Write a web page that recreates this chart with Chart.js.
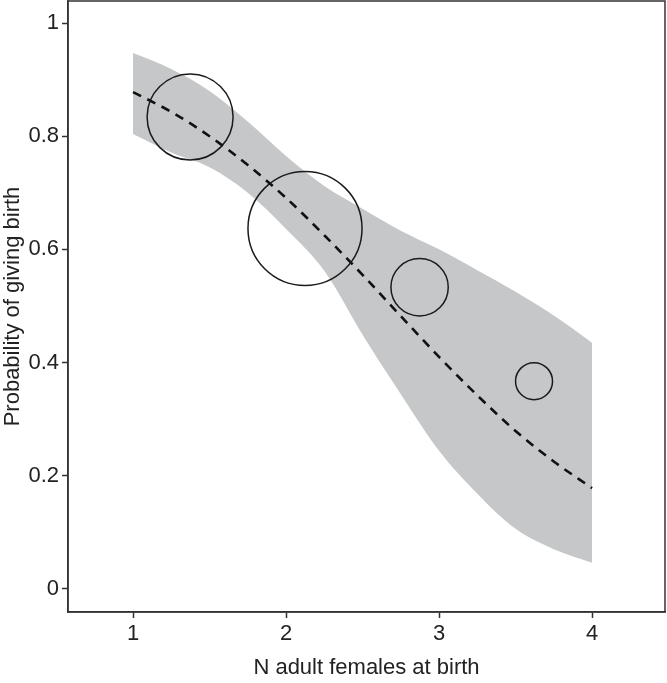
<!DOCTYPE html>
<html>
<head>
<meta charset="utf-8">
<style>
  body { margin: 0; background: #fff; }
</style>
</head>
<body>
<canvas id="myChart" width="667" height="683"></canvas>
<script src="https://cdn.jsdelivr.net/npm/chart.js"></script>
<script>
    // values
    const xGrid = [1, 1.25, 1.5, 1.75, 2, 2.25, 2.5, 2.75, 3, 3.25, 3.5, 3.75, 4];
    const fitted = [0.878, 0.843, 0.800, 0.749, 0.691, 0.625, 0.555, 0.482, 0.410, 0.342, 0.279, 0.225, 0.178];
    const upperCI = [0.947, 0.919, 0.880, 0.826, 0.765, 0.712, 0.672, 0.633, 0.600, 0.563, 0.525, 0.483, 0.435];
    const lowerCI = [0.804, 0.771, 0.745, 0.700, 0.636, 0.562, 0.449, 0.344, 0.244, 0.168, 0.106, 0.070, 0.046];

    const obsX = [1.373, 2.124, 2.873, 3.621];
    const obsY = [0.834, 0.637, 0.533, 0.367];
    const obsN = [54, 95, 24, 10];

    const xTicks = [1, 2, 3, 4];
    const yTicks = [0, 0.2, 0.4, 0.6, 0.8, 1];

    const pts = (ys) => xGrid.map((x, i) => ({x: x, y: ys[i]}));
    const bubbles = obsX.map((x, i) => ({x: x, y: obsY[i], r: 5.85 * Math.sqrt(obsN[i])}));

    const axisColor = '#333333';
    const font = {family: "'Liberation Sans', Arial, sans-serif", size: 22};

    // draw top and right sides of the box
    const frame = {
        id: 'frame',
        afterDraw(chart) {
            const a = chart.chartArea;
            const c = chart.ctx;
            c.save();
            c.strokeStyle = axisColor;
            c.lineWidth = 1.5;
            c.strokeRect(a.left, a.top, a.right - a.left, a.bottom - a.top);
            c.restore();
        }
    };

    new Chart(document.getElementById('myChart'), {
        type: 'line',
        data: {
            datasets: [
                {
                    type: 'bubble',
                    data: bubbles,
                    backgroundColor: 'rgba(0,0,0,0)',
                    borderColor: '#1a1a1a',
                    borderWidth: 1.5,
                    hoverRadius: 0
                },
                {
                    data: pts(fitted),
                    borderColor: '#111111',
                    borderWidth: 2.6,
                    borderDash: [9, 7],
                    pointRadius: 0,
                    cubicInterpolationMode: 'monotone',
                    fill: false
                },
                {
                    data: pts(upperCI),
                    borderWidth: 0,
                    borderColor: 'rgba(0,0,0,0)',
                    backgroundColor: '#c6c7c9',
                    pointRadius: 0,
                    cubicInterpolationMode: 'monotone',
                    fill: '+1'
                },
                {
                    data: pts(lowerCI),
                    borderWidth: 0,
                    borderColor: 'rgba(0,0,0,0)',
                    pointRadius: 0,
                    cubicInterpolationMode: 'monotone',
                    fill: false
                }
            ]
        },
        options: {
            responsive: false,
            animation: false,
            layout: {autoPadding: false, padding: {top: 1, right: 2, left: 0, bottom: 0}},
            plugins: {legend: {display: false}, tooltip: {enabled: false}},
            scales: {
                x: {
                    type: 'linear',
                    min: 0.575,
                    max: 4.477,
                    afterBuildTicks: (s) => { s.ticks = xTicks.map(v => ({value: v})); },
                    afterFit: (s) => { s.height = 71; s.paddingLeft = 0; s.paddingRight = 0; },
                    grid: {drawOnChartArea: false, drawTicks: true, tickLength: 6, tickColor: axisColor, tickWidth: 1.5},
                    border: {color: axisColor, width: 1.5},
                    ticks: {color: '#222', font: font, padding: 3, maxRotation: 0},
                    title: {display: true, text: 'N adult females at birth', color: '#222', font: font, padding: {top: 0, bottom: 2}}
                },
                y: {
                    min: -0.041,
                    max: 1.039,
                    afterBuildTicks: (s) => { s.ticks = yTicks.map(v => ({value: v})); },
                    afterFit: (s) => { s.width = 68; s.paddingTop = 0; s.paddingBottom = 0; },
                    grid: {drawOnChartArea: false, drawTicks: true, tickLength: 6, tickColor: axisColor, tickWidth: 1.5},
                    border: {color: axisColor, width: 1.5},
                    ticks: {color: '#222', font: font, padding: 3, callback: (v) => String(Math.round(v * 10) / 10)},
                    title: {display: true, text: 'Probability of giving birth', color: '#222', font: font, padding: {top: 0, bottom: 0}}
                }
            }
        },
        plugins: [frame]
    });
</script>
</body>
</html>
